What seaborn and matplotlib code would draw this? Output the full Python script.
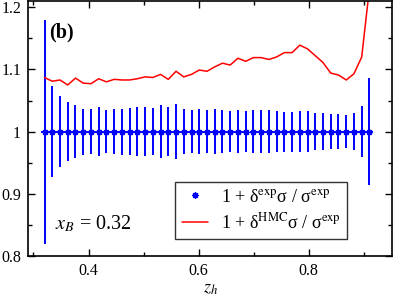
import numpy as np
import pandas as pd
import matplotlib
matplotlib.use("Agg")
import matplotlib.pyplot as plt
import seaborn as sns
from matplotlib.ticker import MultipleLocator, FormatStrFormatter

# z_h bin centres
z_h = [0.3200, 0.3341, 0.3481, 0.3622, 0.3762, 0.3903, 0.4043, 0.4184, 0.4324,
       0.4465, 0.4605, 0.4746, 0.4886, 0.5027, 0.5167, 0.5308, 0.5448, 0.5589,
       0.5729, 0.5870, 0.6010, 0.6151, 0.6291, 0.6432, 0.6572, 0.6713, 0.6853,
       0.6994, 0.7134, 0.7275, 0.7415, 0.7556, 0.7696, 0.7837, 0.7977, 0.8118,
       0.8258, 0.8399, 0.8539, 0.8680, 0.8820, 0.8961, 0.9101]

# relative experimental error (symmetric around 1)
rel_err_exp = [0.180, 0.073, 0.057, 0.047, 0.043, 0.037, 0.036, 0.040, 0.034,
               0.036, 0.037, 0.038, 0.040, 0.040, 0.038, 0.042, 0.040, 0.044,
               0.036, 0.035, 0.036, 0.035, 0.036, 0.035, 0.033, 0.034, 0.033,
               0.034, 0.034, 0.034, 0.033, 0.032, 0.032, 0.033, 0.033, 0.030,
               0.030, 0.028, 0.028, 0.026, 0.030, 0.041, 0.086]

# 1 + delta^HMC sigma / sigma^exp
ratio_hmc = [1.087, 1.081, 1.083, 1.075, 1.086, 1.078, 1.077, 1.085, 1.080,
             1.084, 1.083, 1.083, 1.085, 1.088, 1.087, 1.092, 1.084, 1.097,
             1.088, 1.092, 1.099, 1.097, 1.104, 1.110, 1.107, 1.118, 1.113,
             1.119, 1.119, 1.116, 1.120, 1.127, 1.127, 1.139, 1.133, 1.122,
             1.111, 1.094, 1.091, 1.083, 1.093, 1.120, 1.230]

x_B = 0.32
half_bin = 0.007

df = pd.DataFrame({"z_h": z_h, "err": rel_err_exp, "hmc": ratio_hmc})
df["one"] = 1.0

sns.set_style("ticks")
plt.rcParams["font.family"] = ["Liberation Serif", "DejaVu Serif"]
plt.rcParams["mathtext.fontset"] = "stix"
plt.rcParams["text.color"] = "black"
plt.rcParams["axes.labelcolor"] = "black"

fig = plt.figure(figsize=(3.93, 3.0), dpi=100)
ax = fig.add_axes([0.0712, 0.1467, 0.9275, 0.85])

ax.errorbar(df["z_h"], df["one"], yerr=df["err"], xerr=half_bin, fmt="none",
            ecolor="#0000ff", elinewidth=1.4, capsize=0)
ax.plot(df["z_h"], df["one"], ls="none", marker=(8, 2, 0), ms=4.5, mew=1.0,
        color="#0000ff",
        label="1 + δ$^{\\mathrm{exp}}$σ / σ$^{\\mathrm{exp}}$")
sns.lineplot(data=df, x="z_h", y="hmc", color="#ff0000", lw=1.1, ax=ax,
             label="1 + δ$^{\\mathrm{HMC}}$σ / σ$^{\\mathrm{exp}}$")

ax.set_xlim(0.29, 0.952)
ax.set_ylim(0.8, 1.21)
ax.xaxis.set_major_locator(MultipleLocator(0.2))
ax.xaxis.set_minor_locator(MultipleLocator(0.1))
ax.yaxis.set_major_locator(MultipleLocator(0.1))
ax.yaxis.set_minor_locator(MultipleLocator(0.05))
ax.xaxis.set_major_formatter(FormatStrFormatter("%g"))
ax.yaxis.set_major_formatter(FormatStrFormatter("%g"))
ax.tick_params(which="both", direction="in", top=True, right=True,
               labelsize=11.5, width=1.0, color="black", labelcolor="black")
ax.tick_params(which="major", length=5, pad=5)
ax.tick_params(which="minor", length=3)
for s in ax.spines.values():
    s.set_linewidth(1.2)
    s.set_color("black")

ax.set_xlabel(r"$z_h$", fontsize=13, labelpad=1)
ax.set_ylabel("")

ax.text(0.093, 0.875, "(b)", transform=ax.transAxes, fontsize=14.5,
        fontweight="bold", ha="center", va="center")
ax.text(0.074, 0.125, r"$x_B$ = %g" % x_B, transform=ax.transAxes,
        fontsize=14.5, ha="left", va="center")

leg = ax.legend(loc="lower right", bbox_to_anchor=(0.875, 0.067), fontsize=13,
                frameon=True, fancybox=False, edgecolor="black",
                borderaxespad=0, handlelength=1.45, borderpad=0.35,
                labelspacing=0.38, handletextpad=0.7)
leg.get_frame().set_linewidth(1.0)

fig.savefig("out.png", dpi=100)
plt.close(fig)
